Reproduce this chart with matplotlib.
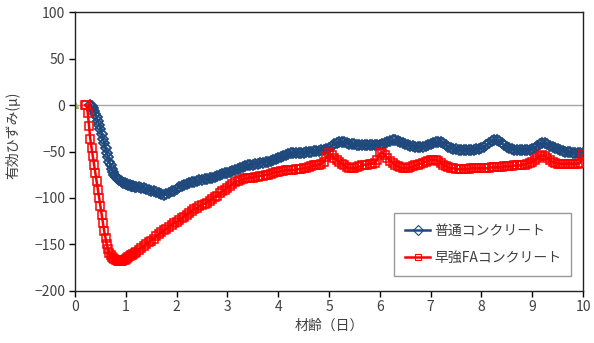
import numpy as np
import matplotlib
matplotlib.use("Agg")
import matplotlib.pyplot as plt

plt.rcParams['font.family'] = ['Noto Sans CJK JP', 'DejaVu Sans']

nan = np.nan

# Age in days: fine spacing through the early drop, then 0.05 d
days_early = np.arange(48) * 0.025          # 0.000 .. 1.175
days_late = 1.2 + np.arange(177) * 0.05     # 1.20 .. 10.00
days = np.concatenate([days_early, days_late])

# Effective strain (micro) - ordinary concrete
normal_early = [
    nan, nan, nan, nan, nan, nan, nan, nan,
    nan, nan, nan, nan, 0, -1, -3, -6,
    -9, -13, -17, -21, -26, -31, -36, -41,
    -46, -51, -56, -61, -65, -69, -72, -75,
    -77, -79, -80, -81, -82, -83, -84, -84,
    -85, -85, -86, -86, -87, -87, -87, -88,
]
normal_late = [
    -88, -88, -89, -89, -90, -91, -92, -93, -94, -95,
    -96, -97, -96, -95, -93, -92, -90, -88, -87, -86,
    -85, -84, -83, -83, -82, -81, -81, -80, -80, -79,
    -78, -77, -76, -75, -74, -73, -73, -72, -71, -70,
    -69, -68, -67, -66, -65, -65, -64, -63, -63, -62,
    -62, -61, -61, -60, -59, -58, -57, -56, -55, -54,
    -53, -52, -51, -51, -51, -51, -51, -50, -50, -50,
    -49, -49, -49, -48, -48, -47, -46, -44, -42, -41,
    -40, -40, -40, -41, -42, -42, -42, -43, -43, -43,
    -43, -43, -43, -43, -43, -43, -43, -42, -41, -40,
    -39, -38, -38, -39, -40, -41, -42, -43, -44, -44,
    -45, -45, -45, -45, -44, -43, -42, -41, -40, -40,
    -40, -41, -43, -45, -46, -47, -47, -48, -48, -48,
    -48, -48, -48, -48, -47, -47, -46, -45, -43, -41,
    -39, -38, -38, -39, -41, -43, -45, -46, -47, -48,
    -48, -48, -48, -48, -48, -48, -47, -46, -44, -42,
    -41, -41, -42, -44, -45, -46, -47, -48, -49, -50,
    -50, -50, -51, -51, -51, -51, -51,
]

# Effective strain (micro) - high-early-strength cement with fly ash
fa_early = [
    nan, nan, nan, nan, nan, nan, nan, nan,
    0, 0, -8, -22, -36, -46, -55, -64,
    -73, -82, -91, -100, -109, -118, -127, -136,
    -143, -150, -155, -159, -162, -164, -165, -166,
    -167, -167, -168, -168, -168, -168, -167, -167,
    -166, -165, -164, -163, -162, -161, -160, -159,
]
fa_late = [
    -158, -156, -154, -152, -150, -148, -146, -144, -141, -139,
    -137, -135, -133, -131, -129, -127, -126, -124, -122, -120,
    -118, -116, -114, -112, -111, -109, -108, -106, -105, -103,
    -101, -99, -98, -95, -93, -91, -89, -87, -85, -83,
    -82, -81, -80, -79, -79, -78, -78, -77, -77, -76,
    -76, -75, -75, -74, -73, -72, -72, -71, -71, -70,
    -70, -70, -70, -69, -69, -69, -68, -68, -67, -66,
    -65, -65, -64, -63, -61, -56, -52, -54, -57, -59,
    -61, -63, -65, -67, -68, -68, -68, -67, -66, -65,
    -64, -64, -63, -63, -62, -59, -52, -51, -54, -57,
    -60, -62, -64, -66, -67, -68, -68, -68, -67, -66,
    -65, -64, -63, -62, -61, -60, -59, -59, -59, -60,
    -62, -64, -66, -67, -68, -68, -69, -69, -69, -69,
    -69, -69, -68, -68, -68, -68, -68, -68, -68, -68,
    -67, -67, -67, -67, -67, -66, -66, -66, -66, -65,
    -65, -65, -64, -64, -63, -62, -61, -59, -57, -55,
    -54, -55, -57, -59, -61, -62, -63, -63, -63, -63,
    -63, -63, -63, -63, -63, -62, -53,
]

normal = np.array(normal_early + normal_late, dtype=float)
fa = np.array(fa_early + fa_late, dtype=float)

labels = ['普通コンクリート', '早強FAコンクリート']
x_ticks = [0, 1, 2, 3, 4, 5, 6, 7, 8, 9, 10]
y_ticks = [-200, -150, -100, -50, 0, 50, 100]

blue = '#1F497D'
red = '#FF0000'
text_col = '#404040'

fig = plt.figure(figsize=(5.94, 3.43), dpi=100)
ax = fig.add_axes([0.1263, 0.1525, 0.8552, 0.8111])

ax.axhline(0, color='#A6A6A6', lw=1.0, zorder=1)
ax.plot([0], [0], marker='^', ms=4, color='#9BBB59', ls='none', zorder=2)

ax.plot(days, normal, color=blue, lw=1.8, marker='D', ms=5.6,
        mfc='none', mec=blue, mew=1.3, label=labels[0], zorder=3)
ax.plot(days, fa, color=red, lw=1.8, marker='s', ms=6.0,
        mfc='none', mec=red, mew=1.1, label=labels[1], zorder=4)

ax.set_xlim(0, 10)
ax.set_ylim(-200, 100)
ax.set_xticks(x_ticks)
ax.set_yticks(y_ticks)
ax.set_yticklabels([str(v).replace('-', '\u2212') for v in y_ticks])
ax.tick_params(direction='out', length=4, width=1, color='black',
               labelsize=10, labelcolor=text_col, pad=3)
for sp in ax.spines.values():
    sp.set_color('#222222')
    sp.set_linewidth(1.0)

ax.set_xlabel('材齢（日）', fontsize=10, color=text_col, labelpad=3)
ax.set_ylabel('有効ひずみ(μ)', fontsize=10, color=text_col)
ax.yaxis.set_label_coords(-0.108, 0.56)

leg = ax.legend(loc='lower left', bbox_to_anchor=(0.628, 0.053, 0.348, 0.226),
                mode='expand', frameon=True, fancybox=False, fontsize=10,
                handlelength=1.8, handletextpad=0.3, borderpad=0.8,
                labelspacing=0.9, borderaxespad=0)
leg.get_frame().set_edgecolor('#808080')
leg.get_frame().set_linewidth(1.0)
for t in leg.get_texts():
    t.set_color(text_col)
for h in leg.get_lines():
    h.set_markeredgewidth(0.8)
    h.set_markersize(5.0)

fig.savefig('out.png', dpi=100)
